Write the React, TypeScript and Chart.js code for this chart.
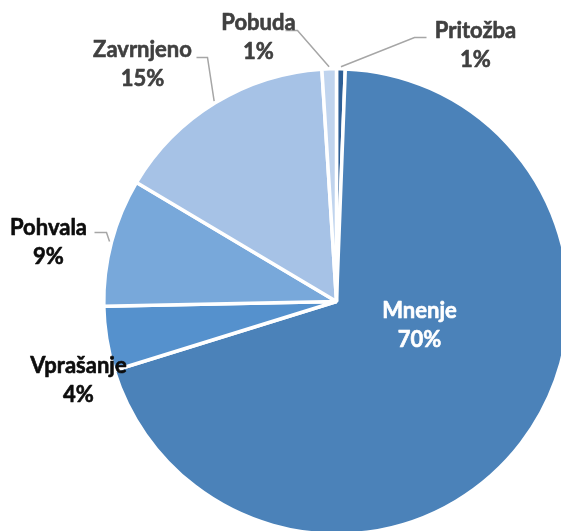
import React, { useEffect, useRef } from "react";
import { Chart, registerables } from "chart.js";

Chart.register(...registerables);

// ---- data ----
const categories = ["Pritožba", "Mnenje", "Vprašanje", "Pohvala", "Zavrnjeno", "Pobuda"];
const values = [0.6, 69.4, 4.45, 8.85, 15.4, 1.0];
const sliceColors = ["#2E5F96", "#4B82B9", "#5591CD", "#78A8DA", "#A6C2E6", "#C0D4EE"];

// ---- label layout (offsets from pie centre, px) ----
type LabelLayout = {
  dx: number;
  dy: number;
  color: string;
  elbow?: [number, number];
  end?: [number, number];
};
const labelLayout: LabelLayout[] = [
  { dx: 139, dy: -264, color: "#404040", elbow: [78, -264], end: [90, -264] },
  { dx: 83, dy: 16, color: "#FFFFFF" },
  { dx: -258, dy: 71, color: "#0D0D0D" },
  { dx: -288, dy: -67, color: "#0D0D0D", elbow: [-230, -69], end: [-242, -69] },
  { dx: -194, dy: -245, color: "#404040", elbow: [-129, -244], end: [-140, -244] },
  { dx: -78, dy: -272, color: "#404040", elbow: [-39, -271], end: [-51, -271] },
];
const LINE_GAP = 29;
const FONT = "bold 22px Lato, 'Open Sans', sans-serif";

const labelPlugin = {
  id: "pieLabels",
  afterDatasetsDraw(chart: any) {
    const ctx = chart.ctx as CanvasRenderingContext2D;
    const meta = chart.getDatasetMeta(0);
    const total = values.reduce((a, b) => a + b, 0);
    meta.data.forEach((arc: any, i: number) => {
      const { x, y, startAngle, endAngle, outerRadius } = arc.getProps(
        ["x", "y", "startAngle", "endAngle", "outerRadius"],
        true
      );
      const L = labelLayout[i];
      const mid = (startAngle + endAngle) / 2;
      ctx.save();
      if (L.elbow && L.end) {
        const sx = x + Math.cos(mid) * (outerRadius + 2);
        const sy = y + Math.sin(mid) * (outerRadius + 2);
        ctx.strokeStyle = "#A6A6A6";
        ctx.lineWidth = 1.5;
        ctx.beginPath();
        ctx.moveTo(sx, sy);
        ctx.lineTo(x + L.elbow[0], y + L.elbow[1]);
        ctx.lineTo(x + L.end[0], y + L.end[1]);
        ctx.stroke();
      }
      ctx.font = FONT;
      ctx.fillStyle = L.color;
      ctx.strokeStyle = L.color;
      ctx.lineWidth = 0.6;
      ctx.lineJoin = "round";
      ctx.textAlign = "center";
      ctx.textBaseline = "alphabetic";
      const name = categories[i];
      const pct = Math.round((values[i] / total) * 100) + "%";
      ctx.fillText(name, x + L.dx, y + L.dy);
      ctx.strokeText(name, x + L.dx, y + L.dy);
      ctx.fillText(pct, x + L.dx, y + L.dy + LINE_GAP);
      ctx.strokeText(pct, x + L.dx, y + L.dy + LINE_GAP);
      ctx.restore();
    });
  },
};

export default function App() {
  const canvasRef = useRef<HTMLCanvasElement | null>(null);

  useEffect(() => {
    if (!canvasRef.current) return;
    const chart = new Chart(canvasRef.current, {
      type: "pie",
      data: {
        labels: categories,
        datasets: [
          {
            data: values,
            backgroundColor: sliceColors,
            borderColor: "#FFFFFF",
            borderWidth: 3.5,
          },
        ],
      },
      options: {
        responsive: false,
        animation: false,
        rotation: 0,
        layout: { padding: { left: 102, top: 67, right: 29, bottom: 24 } },
        plugins: {
          legend: { display: false },
          tooltip: { enabled: false },
        },
      },
      plugins: [labelPlugin],
    });
    return () => chart.destroy();
  }, []);

  return (
    <div
      style={{
        position: "fixed",
        left: 0,
        top: 0,
        width: 561,
        height: 531,
        overflow: "hidden",
        background: "#FFFFFF",
      }}
    >
      <canvas ref={canvasRef} width={600} height={560} style={{ display: "block" }} />
    </div>
  );
}
